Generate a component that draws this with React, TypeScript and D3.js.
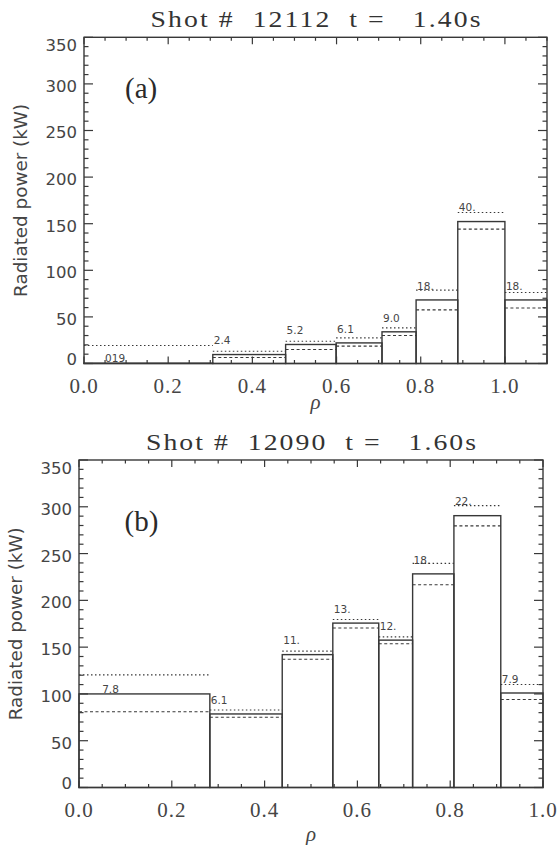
import React from "react";
import * as d3 from "d3";

// ---------- data ----------
// Panel (a): Shot # 12112, t = 1.40 s
const edgesA = [0, 0.306, 0.479, 0.599, 0.708, 0.789, 0.888, 1.0, 1.1];
const powerA = [0.4, 9.6, 20.4, 22.1, 34.0, 68.2, 152.3, 68.2];
const upperA = [19.3, 13.2, 23.9, 27.5, 38.2, 78.7, 162.0, 76.2];
const lowerA = [0, 6.4, 15.0, 18.6, 30.0, 57.5, 144.2, 59.6];
const labelsA = ["019", "2.4", "5.2", "6.1", "9.0", "18.", "40.", "18."];

// Panel (b): Shot # 12090, t = 1.60 s
const edgesB = [0, 0.282, 0.438, 0.547, 0.646, 0.719, 0.808, 0.909, 1.0];
const powerB = [100, 78.6, 142, 175.7, 157.5, 228.3, 290.5, 101];
const upperB = [120.4, 82.9, 145.7, 179.6, 161, 239.5, 301.2, 110];
const lowerB = [81, 75, 137, 170.4, 153.6, 216.7, 279.6, 94];
const labelsB = ["7.8", "6.1", "11.", "13.", "12.", "18.", "22.", "7.9"];

const xTickLabels = ["0.0", "0.2", "0.4", "0.6", "0.8", "1.0"];
const yTickLabels = ["0", "50", "100", "150", "200", "250", "300", "350"];

const INK = "#383838";
const TXT = "#454545";

type Cfg = {
  left: number; right: number; top: number; bottom: number;
  xMax: number; title: string; tag: string; tagX: number; tagY: number;
  rhoY: number; yTitleX: number;
};

function Panel({ cfg, edges, power, upper, lower, labels }: {
  cfg: Cfg; edges: number[]; power: number[]; upper: number[]; lower: number[]; labels: string[];
}) {
  const x = d3.scaleLinear().domain([0, cfg.xMax]).range([cfg.left, cfg.right]);
  const y = d3.scaleLinear().domain([0, 350]).range([cfg.bottom, cfg.top]);
  const xt = d3.range(0, cfg.xMax + 1e-9, 0.05);
  const yt = d3.range(0, 351, 10);
  const isMajX = (v: number) => Math.abs(v / 0.2 - Math.round(v / 0.2)) < 1e-6;
  const cx = (cfg.left + cfg.right) / 2;
  const bars = power.map((p, i) => ({ p, u: upper[i], l: lower[i], x0: edges[i], x1: edges[i + 1], lab: labels[i], i }));
  const tScale = 1.18;
  return (
    <g>
      {/* title */}
      <text transform={`translate(${cx},${cfg.top - 10}) scale(${tScale},1)`} textAnchor="middle"
        fontFamily="'Liberation Serif', serif" fontSize={23.5} fill="#333"
        textLength={330 / tScale} lengthAdjust="spacing" style={{ whiteSpace: "pre" }}>{cfg.title}</text>
      {/* dashed error lines */}
      {bars.map((b) => (
        <g key={"d" + b.i}>
          <line x1={x(b.x0)} x2={x(b.x1)} y1={y(b.u)} y2={y(b.u)} stroke={INK} strokeWidth={1.1} strokeDasharray="1.5 2.5" />
          <line x1={x(b.x0)} x2={x(b.x1)} y1={y(b.l)} y2={y(b.l)} stroke={INK} strokeWidth={1.1} strokeDasharray="3 2.5" />
        </g>
      ))}
      {/* bars */}
      {bars.map((b) => (
        <rect key={"b" + b.i} x={x(b.x0)} y={y(b.p)} width={x(b.x1) - x(b.x0)} height={y(0) - y(b.p)}
          fill="none" stroke={INK} strokeWidth={1.4} />
      ))}
      {/* bar labels */}
      {bars.map((b) => (
        <text key={"l" + b.i} x={b.i === 0 ? x(0.05) : x(b.x0) + 1} y={y(b.p + (b.i === 0 ? 1 : 11))}
          fontFamily="'DejaVu Sans', sans-serif" fontSize={10.5} fill={TXT}>{b.lab}</text>
      ))}
      {/* frame */}
      <rect x={cfg.left} y={cfg.top} width={cfg.right - cfg.left} height={cfg.bottom - cfg.top} fill="none" stroke={INK} strokeWidth={1.4} />
      {/* x ticks */}
      {xt.map((v, i) => {
        const L = isMajX(v) ? 7 : 3.5;
        return (
          <g key={"xt" + i}>
            <line x1={x(v)} x2={x(v)} y1={cfg.bottom} y2={cfg.bottom - L} stroke={INK} strokeWidth={1.2} />
            <line x1={x(v)} x2={x(v)} y1={cfg.top} y2={cfg.top + L} stroke={INK} strokeWidth={1.2} />
          </g>
        );
      })}
      {/* y ticks */}
      {yt.map((v, i) => {
        const L = v % 50 === 0 ? 9 : 4.5;
        return (
          <g key={"yt" + i}>
            <line x1={cfg.left} x2={cfg.left + L} y1={y(v)} y2={y(v)} stroke={INK} strokeWidth={1.2} />
            <line x1={cfg.right} x2={cfg.right - L} y1={y(v)} y2={y(v)} stroke={INK} strokeWidth={1.2} />
          </g>
        );
      })}
      {/* x tick labels */}
      {xTickLabels.map((s) => (
        <text key={"xl" + s} x={x(+s)} y={cfg.bottom + 29} textAnchor="middle" fontFamily="'Liberation Serif', serif"
          fontSize={21} letterSpacing={1} fill={TXT}>{s}</text>
      ))}
      {/* y tick labels */}
      {yTickLabels.map((s) => {
        const cy = Math.min(Math.max(y(+s) + 2, cfg.top + 8), cfg.bottom - 4);
        return (
          <text key={"yl" + s} x={cfg.left - 7} y={cy} dy="0.36em" textAnchor="end" fontFamily="'DejaVu Sans', sans-serif"
            fontSize={16.5} fill={TXT}>{s}</text>
        );
      })}
      {/* axis titles */}
      <text x={cx} y={cfg.rhoY} dy="0.3em" textAnchor="middle" fontFamily="'Liberation Serif', serif" fontStyle="italic"
        fontSize={21} fill={TXT}>ρ</text>
      <text transform={`translate(${cfg.yTitleX},${y(175)}) rotate(-90)`} textAnchor="middle" dy="0.36em"
        fontFamily="'DejaVu Sans', sans-serif" fontSize={18} fill={TXT} textLength={193} lengthAdjust="spacingAndGlyphs">
        Radiated power (kW)
      </text>
      <text x={cfg.tagX} y={cfg.tagY} dy="0.33em" fontFamily="'Liberation Serif', serif" fontSize={29} fill="#2a2a2a">{cfg.tag}</text>
    </g>
  );
}

const cfgA: Cfg = {
  left: 84, right: 547, top: 37.3, bottom: 363.5, xMax: 1.1,
  title: "Shot #  12112  t =   1.40s", tag: "(a)", tagX: 125, tagY: 88, rhoY: 403, yTitleX: 21,
};
const cfgB: Cfg = {
  left: 79, right: 543, top: 460, bottom: 787.5, xMax: 1.0,
  title: "Shot #  12090  t =   1.60s", tag: "(b)", tagX: 124.5, tagY: 521, rhoY: 835, yTitleX: 16,
};

export default function App() {
  return (
    <svg width={557} height={845} viewBox="0 0 557 845" style={{ position: "absolute", left: 0, top: 0, background: "#fff" }}>
      <rect width={557} height={845} fill="#fff" />
      <Panel cfg={cfgA} edges={edgesA} power={powerA} upper={upperA} lower={lowerA} labels={labelsA} />
      <Panel cfg={cfgB} edges={edgesB} power={powerB} upper={upperB} lower={lowerB} labels={labelsB} />
    </svg>
  );
}
